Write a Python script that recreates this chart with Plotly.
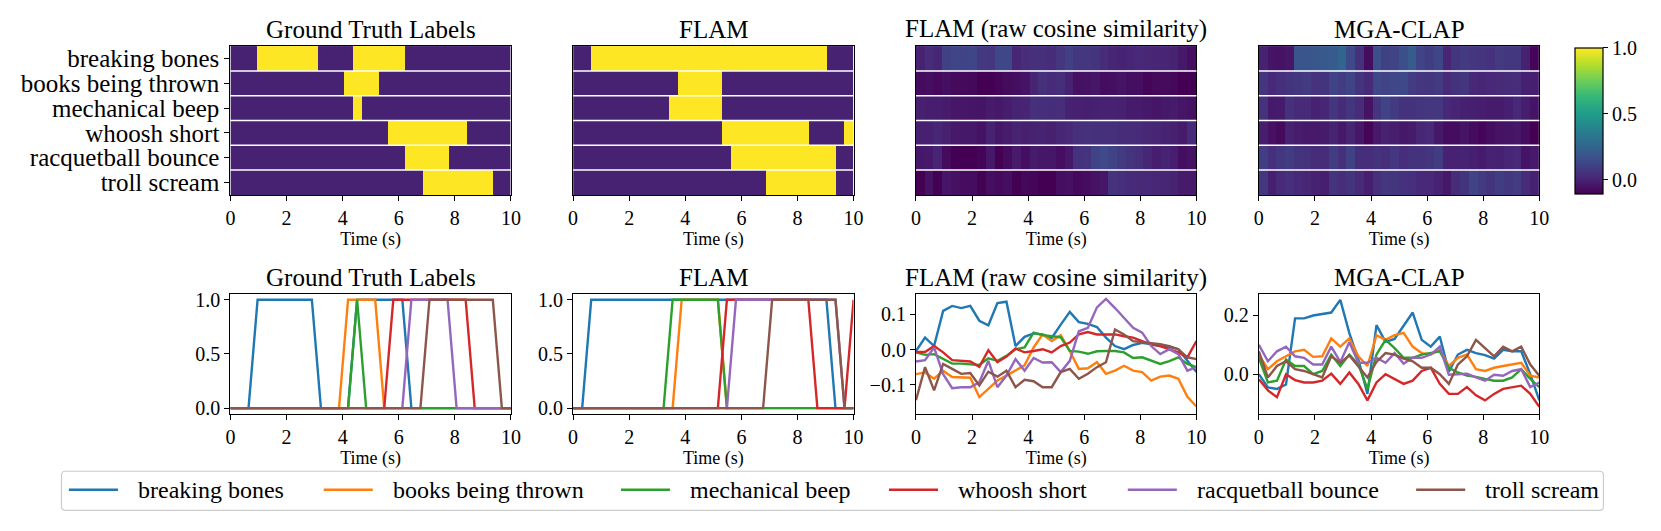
import numpy as np
import plotly.graph_objects as go

W, H = 1661, 531
FONT = "Liberation Serif"

# ---------------- data ----------------
categories = ["breaking bones", "books being thrown", "mechanical beep",
              "whoosh short", "racquetball bounce", "troll scream"]
series_colors = ["#1f77b4", "#ff7f0e", "#2ca02c", "#d62728", "#9467bd", "#8c564b"]
panel_titles = ["Ground Truth Labels", "FLAM", "FLAM (raw cosine similarity)", "MGA-CLAP"]
time_ticks = [0, 2, 4, 6, 8, 10]

n_frames = 32
clip_seconds = 10.0

# Ground truth labels (per frame)
gt_breaking_bones = [0,0,0,1,1,1,1,1,1,1,0,0,0,0,1,1,1,1,1,1,0,0,0,0,0,0,0,0,0,0,0,0]
gt_books_thrown   = [0,0,0,0,0,0,0,0,0,0,0,0,0,1,1,1,1,0,0,0,0,0,0,0,0,0,0,0,0,0,0,0]
gt_mech_beep      = [0,0,0,0,0,0,0,0,0,0,0,0,0,0,1,0,0,0,0,0,0,0,0,0,0,0,0,0,0,0,0,0]
gt_whoosh_short   = [0,0,0,0,0,0,0,0,0,0,0,0,0,0,0,0,0,0,1,1,1,1,1,1,1,1,1,0,0,0,0,0]
gt_racquetball    = [0,0,0,0,0,0,0,0,0,0,0,0,0,0,0,0,0,0,0,0,1,1,1,1,1,0,0,0,0,0,0,0]
gt_troll_scream   = [0,0,0,0,0,0,0,0,0,0,0,0,0,0,0,0,0,0,0,0,0,0,1,1,1,1,1,1,1,1,0,0]

# FLAM thresholded predictions (per frame)
flam_breaking_bones = [0,0,1,1,1,1,1,1,1,1,1,1,1,1,1,1,1,1,1,1,1,1,1,1,1,1,1,1,1,0,0,0]
flam_books_thrown   = [0,0,0,0,0,0,0,0,0,0,0,0,1,1,1,1,1,0,0,0,0,0,0,0,0,0,0,0,0,0,0,0]
flam_mech_beep      = [0,0,0,0,0,0,0,0,0,0,0,1,1,1,1,1,1,0,0,0,0,0,0,0,0,0,0,0,0,0,0,0]
flam_whoosh_short   = [0,0,0,0,0,0,0,0,0,0,0,0,0,0,0,0,0,1,1,1,1,1,1,1,1,1,1,0,0,0,0,1]
flam_racquetball    = [0,0,0,0,0,0,0,0,0,0,0,0,0,0,0,0,0,0,1,1,1,1,1,1,1,1,1,1,1,1,0,0]
flam_troll_scream   = [0,0,0,0,0,0,0,0,0,0,0,0,0,0,0,0,0,0,0,0,0,0,1,1,1,1,1,1,1,1,0,0]

# FLAM raw cosine similarity (per frame)
flam_raw_breaking_bones = [-0.004, 0.034, 0.010, 0.110, 0.124, 0.118, 0.124, 0.082, 0.069, 0.132, 0.136, 0.010,
                           0.036, 0.046, 0.043, 0.033, 0.071, 0.107, 0.078, 0.073, 0.064, 0.034, 0.010, 0.001,
                           0.013, 0.019, 0.015, 0.010, 0.008, 0.001, -0.032, -0.064]
flam_raw_books_thrown   = [-0.070, -0.065, -0.083, -0.060, -0.078, -0.078, -0.080, -0.135, -0.112, -0.088, -0.074, -0.060,
                           -0.045, 0.006, 0.043, 0.024, 0.041, -0.004, -0.055, -0.053, -0.036, -0.069, -0.060, -0.046,
                           -0.060, -0.064, -0.088, -0.077, -0.074, -0.083, -0.134, -0.162]
flam_raw_mech_beep      = [-0.008, -0.015, -0.013, -0.027, -0.040, -0.040, -0.041, -0.044, -0.025, -0.032, -0.018, 0.001,
                           0.006, 0.048, 0.041, 0.038, 0.035, -0.004, -0.006, -0.012, -0.005, -0.004, -0.004, -0.008,
                           -0.024, -0.022, -0.032, -0.041, -0.033, -0.022, -0.041, -0.050]
flam_raw_whoosh_short   = [-0.007, -0.007, 0.010, -0.008, -0.030, -0.032, -0.034, -0.049, -0.002, -0.036, -0.020, 0.003,
                           -0.008, -0.004, 0.001, -0.008, 0.010, 0.020, 0.043, 0.050, 0.043, 0.043, 0.043, 0.038,
                           0.034, 0.024, 0.015, 0.010, 0.001, -0.008, -0.022, 0.024]
flam_raw_racquetball    = [-0.034, -0.030, 0.006, -0.070, -0.110, -0.107, -0.107, -0.093, -0.032, -0.107, -0.074, -0.027,
                           -0.060, -0.024, -0.037, -0.036, -0.064, -0.032, 0.052, 0.062, 0.120, 0.144, 0.118, 0.090,
                           0.062, 0.048, 0.010, -0.013, 0.001, -0.013, -0.060, -0.050]
flam_raw_troll_scream   = [-0.144, -0.050, -0.116, -0.041, -0.055, -0.069, -0.067, -0.102, -0.063, -0.077, -0.060, -0.107,
                           -0.086, -0.090, -0.107, -0.107, -0.064, -0.055, -0.083, -0.069, -0.050, -0.036, 0.057, 0.043,
                           0.024, 0.021, 0.019, 0.015, 0.010, 0.001, -0.022, -0.027]

# MGA-CLAP similarity (per frame)
mga_breaking_bones = [0.000, -0.045, -0.050, -0.035, 0.190, 0.190, 0.200, 0.205, 0.210, 0.253, 0.140, 0.050,
                      -0.067, 0.167, 0.110, 0.120, 0.165, 0.210, 0.117, 0.094, 0.128, 0.009, 0.067, 0.083,
                      0.072, 0.065, 0.053, 0.083, 0.078, 0.078, 0.000, -0.089]
mga_books_thrown   = [0.067, 0.017, 0.044, 0.061, 0.078, 0.083, 0.059, 0.061, 0.122, 0.094, 0.122, 0.061,
                      0.028, 0.133, 0.117, 0.133, 0.141, 0.094, 0.072, 0.067, 0.083, 0.028, 0.056, 0.067,
                      0.017, 0.011, 0.022, 0.028, 0.033, 0.039, -0.005, -0.011]
mga_mech_beep      = [0.056, -0.028, -0.022, 0.050, 0.028, 0.028, 0.000, 0.011, 0.067, 0.028, 0.067, 0.033,
                      -0.050, 0.067, 0.117, 0.089, 0.056, 0.056, 0.067, 0.072, 0.078, 0.022, 0.006, -0.005,
                      -0.009, -0.016, -0.022, -0.022, -0.011, 0.017, -0.016, -0.044]
mga_whoosh_short   = [-0.017, -0.055, -0.078, 0.000, -0.020, -0.028, -0.028, -0.022, 0.002, -0.033, 0.006, -0.033,
                      -0.089, -0.028, 0.000, -0.017, -0.033, -0.022, 0.011, 0.022, -0.033, -0.067, -0.067, -0.044,
                      -0.072, -0.089, -0.067, -0.050, -0.044, -0.039, -0.067, -0.111]
mga_racquetball    = [0.100, 0.044, 0.078, 0.094, 0.061, 0.056, 0.033, 0.033, 0.094, 0.042, 0.109, 0.039,
                      0.039, 0.056, 0.039, 0.072, 0.036, 0.056, 0.056, 0.067, 0.094, -0.002, 0.000, 0.002,
                      -0.011, -0.022, -0.002, -0.005, 0.011, 0.017, -0.044, -0.028]
mga_troll_scream   = [0.078, -0.011, 0.028, 0.044, 0.017, 0.011, 0.000, -0.011, 0.061, 0.039, 0.064, 0.028,
                      -0.011, 0.042, 0.072, 0.067, 0.053, 0.044, 0.022, 0.022, 0.000, -0.033, 0.033, 0.061,
                      0.117, 0.089, 0.061, 0.094, 0.078, 0.094, 0.033, -0.005]

color_min, color_max = -0.105, 1.0
colorbar_ticks = [0.0, 0.5, 1.0]

panels = [
    [gt_breaking_bones, gt_books_thrown, gt_mech_beep, gt_whoosh_short, gt_racquetball, gt_troll_scream],
    [flam_breaking_bones, flam_books_thrown, flam_mech_beep, flam_whoosh_short, flam_racquetball, flam_troll_scream],
    [flam_raw_breaking_bones, flam_raw_books_thrown, flam_raw_mech_beep, flam_raw_whoosh_short,
     flam_raw_racquetball, flam_raw_troll_scream],
    [mga_breaking_bones, mga_books_thrown, mga_mech_beep, mga_whoosh_short, mga_racquetball, mga_troll_scream],
]
line_yranges = [[-0.05, 1.05], [-0.05, 1.05], [-0.182, 0.157], [-0.134, 0.272]]
line_yticks = [[0.0, 0.5, 1.0], [0.0, 0.5, 1.0], [-0.1, 0.0, 0.1], [0.0, 0.2]]

# ---------------- layout geometry (pixels) ----------------
col_px = [(227.5, 510.5), (573.3, 856.3), (919.3, 1202.3), (1265.3, 1548.3)]
top_row_px = (41.0, 193.3)
bot_row_px = (295.0, 417.0)


def px_x(v):
    return v / W


def px_y(v):
    return 1 - v / H


def sfx(n):
    return "" if n == 1 else str(n)


cell_centers = (np.arange(n_frames) + 0.5) * clip_seconds / n_frames
frame_times = np.linspace(0, clip_seconds, n_frames)
row_index = list(range(len(categories)))

fig = go.Figure()
axis_common = dict(showline=True, linecolor="black", linewidth=1.2, mirror=True,
                   ticks="outside", ticklen=5, tickwidth=1.2, tickcolor="black",
                   showgrid=False, zeroline=False,
                   tickfont=dict(family=FONT, size=20, color="black"))

shapes = []
annotations = []
layout_axes = {}

for c in range(4):
    ta = sfx(c + 1)        # top axis suffix
    ba = sfx(c + 5)        # bottom axis suffix
    xd = [px_x(col_px[c][0]), px_x(col_px[c][1])]
    # ---- heatmap ----
    fig.add_trace(go.Heatmap(
        x=cell_centers, y=row_index, z=panels[c], coloraxis="coloraxis",
        xaxis=f"x{ta}", yaxis=f"y{ta}", hoverinfo="skip"))
    layout_axes[f"xaxis{ta}"] = dict(
        domain=xd, anchor=f"y{ta}", range=[0, clip_seconds], tickvals=time_ticks,
        title=dict(text="Time (s)", font=dict(family=FONT, size=18, color="black"), standoff=2),
        **axis_common)
    yax = dict(domain=[px_y(top_row_px[1]), px_y(top_row_px[0])], anchor=f"x{ta}",
               range=[len(categories) - 0.5, -0.5], **axis_common)
    if c == 0:
        yax.update(tickvals=row_index, ticktext=categories,
                   tickfont=dict(family=FONT, size=25, color="black"))
    else:
        yax.update(showticklabels=False, ticks="")
    layout_axes[f"yaxis{ta}"] = yax
    for k in range(1, len(categories)):
        shapes.append(dict(type="line", xref=f"x{ta} domain", yref=f"y{ta}",
                           x0=0, x1=1, y0=k - 0.5, y1=k - 0.5,
                           line=dict(color="white", width=1.5), layer="above"))
    # ---- line plot ----
    for s, name in enumerate(categories):
        fig.add_trace(go.Scatter(
            x=frame_times, y=panels[c][s], mode="lines", name=name,
            line=dict(color=series_colors[s], width=2.4),
            xaxis=f"x{ba}", yaxis=f"y{ba}", showlegend=False, hoverinfo="skip"))
    layout_axes[f"xaxis{ba}"] = dict(
        domain=xd, anchor=f"y{ba}", range=[0, clip_seconds], tickvals=time_ticks,
        title=dict(text="Time (s)", font=dict(family=FONT, size=18, color="black"), standoff=2),
        **axis_common)
    layout_axes[f"yaxis{ba}"] = dict(
        domain=[px_y(bot_row_px[1]), px_y(bot_row_px[0])], anchor=f"x{ba}",
        range=line_yranges[c], tickvals=line_yticks[c], tickformat=".1f", **axis_common)
    # ---- titles ----
    xc = (xd[0] + xd[1]) / 2
    annotations.append(dict(text=panel_titles[c], x=xc, y=px_y(24), xref="paper", yref="paper",
                            xanchor="center", yanchor="middle", showarrow=False,
                            font=dict(family=FONT, size=25, color="black")))
    annotations.append(dict(text=panel_titles[c], x=xc, y=px_y(278), xref="paper", yref="paper",
                            xanchor="center", yanchor="middle", showarrow=False,
                            font=dict(family=FONT, size=25, color="black")))

# ---------------- legend (drawn as a framed row of items) ----------------
leg_x0, leg_x1, leg_top, leg_bot, rad = 57.0, 1613.0, 476.0, 516.0, 4.0
rx, ry = rad / W, rad / H
x0p, x1p, ytp, ybp = px_x(leg_x0), px_x(leg_x1), px_y(leg_top), px_y(leg_bot)
box_path = (f"M {x0p+rx},{ytp} L {x1p-rx},{ytp} Q {x1p},{ytp} {x1p},{ytp-ry} "
            f"L {x1p},{ybp+ry} Q {x1p},{ybp} {x1p-rx},{ybp} L {x0p+rx},{ybp} "
            f"Q {x0p},{ybp} {x0p},{ybp+ry} L {x0p},{ytp-ry} Q {x0p},{ytp} {x0p+rx},{ytp} Z")
shapes.append(dict(type="path", xref="paper", yref="paper", path=box_path,
                   line=dict(color="#cccccc", width=1.2), fillcolor="rgba(255,255,255,0.8)"))
item_starts = [64.5, 321.6, 621.6, 892.0, 1133.0, 1424.0]
handle_len, text_gap, leg_y = 49.5, 18.0, 495.0
for s, name in enumerate(categories):
    xs = item_starts[s]
    shapes.append(dict(type="line", xref="paper", yref="paper",
                       x0=px_x(xs), x1=px_x(xs + handle_len), y0=px_y(leg_y), y1=px_y(leg_y),
                       line=dict(color=series_colors[s], width=2.4)))
    annotations.append(dict(text=name, x=px_x(xs + handle_len + text_gap), y=px_y(leg_y),
                            xref="paper", yref="paper", xanchor="left", yanchor="middle",
                            showarrow=False, font=dict(family=FONT, size=24, color="black")))

cb_left, cb_right, cb_top, cb_bot = 1584.3, 1612.7, 42.7, 191.7
fig.update_layout(
    width=W, height=H, autosize=False,
    margin=dict(l=0, r=0, t=0, b=0),
    paper_bgcolor="white", plot_bgcolor="white",
    font=dict(family=FONT, color="black"),
    showlegend=False,
    coloraxis=dict(
        colorscale="Viridis", cmin=color_min, cmax=color_max,
        colorbar=dict(
            x=px_x(cb_left), xanchor="left", xpad=0, ypad=0,
            y=px_y((cb_top + cb_bot) / 2), yanchor="middle",
            len=(cb_bot - cb_top) / H, lenmode="fraction",
            thickness=cb_right - cb_left, outlinewidth=1.2, outlinecolor="black",
            tickvals=colorbar_ticks, ticktext=[f"{v:.1f}" for v in colorbar_ticks],
            ticks="outside", ticklen=5, tickwidth=1.2, tickcolor="black",
            tickfont=dict(family=FONT, size=20, color="black"))),
    shapes=shapes,
    annotations=annotations,
    **layout_axes,
)

fig.write_html("out.html",
               config={"displayModeBar": False},
               post_script="document.body.style.margin='0px';document.body.style.overflow='hidden';")
